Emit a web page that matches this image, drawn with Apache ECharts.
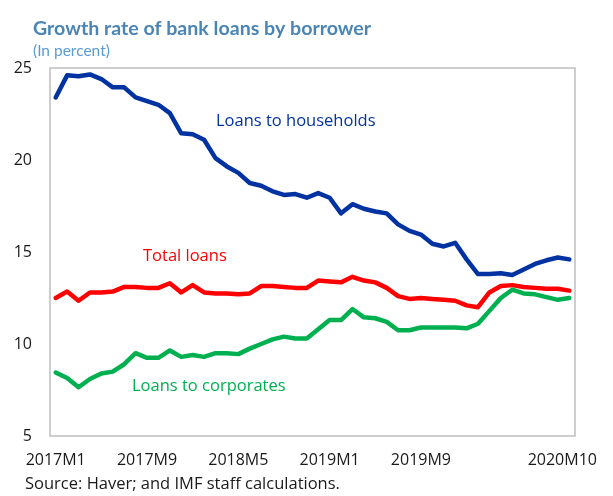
<!DOCTYPE html>
<html>
<head>
<meta charset="utf-8">
<script src="https://cdn.jsdelivr.net/npm/echarts@6/dist/echarts.min.js"></script>
<style>
  html, body { margin: 0; padding: 0; background: #ffffff; }
  #chart { width: 613px; height: 496px; }
</style>
</head>
<body>
<div id="chart"></div>
<script>
// Monthly observations, 2017M1 .. 2020M10
const months = [
  '2017M1','2017M2','2017M3','2017M4','2017M5','2017M6','2017M7','2017M8','2017M9','2017M10','2017M11','2017M12',
  '2018M1','2018M2','2018M3','2018M4','2018M5','2018M6','2018M7','2018M8','2018M9','2018M10','2018M11','2018M12',
  '2019M1','2019M2','2019M3','2019M4','2019M5','2019M6','2019M7','2019M8','2019M9','2019M10','2019M11','2019M12',
  '2020M1','2020M2','2020M3','2020M4','2020M5','2020M6','2020M7','2020M8','2020M9','2020M10'
];

// Growth rates, percent
const households = [
  23.4, 24.6, 24.55, 24.65, 24.4, 23.95, 23.95, 23.4, 23.2, 23.0, 22.55, 21.45,
  21.4, 21.1, 20.1, 19.65, 19.3, 18.75, 18.6, 18.3, 18.1, 18.15, 17.95, 18.2,
  17.95, 17.1, 17.6, 17.35, 17.2, 17.1, 16.5, 16.15, 15.95, 15.45, 15.3, 15.5,
  14.6, 13.8, 13.8, 13.85, 13.75, 14.05, 14.35, 14.55, 14.7, 14.6
];
const totalLoans = [
  12.5, 12.85, 12.35, 12.8, 12.8, 12.85, 13.1, 13.1, 13.05, 13.05, 13.3, 12.8,
  13.2, 12.8, 12.75, 12.75, 12.7, 12.75, 13.15, 13.15, 13.1, 13.05, 13.05, 13.45,
  13.4, 13.35, 13.65, 13.45, 13.35, 13.05, 12.6, 12.45, 12.5, 12.45, 12.4, 12.35,
  12.1, 12.0, 12.8, 13.15, 13.2, 13.1, 13.05, 13.0, 13.0, 12.9
];
const corporates = [
  8.45, 8.15, 7.65, 8.1, 8.4, 8.5, 8.9, 9.5, 9.25, 9.25, 9.65, 9.3,
  9.4, 9.3, 9.5, 9.5, 9.45, 9.75, 10.0, 10.25, 10.4, 10.3, 10.3, 10.8,
  11.3, 11.3, 11.9, 11.45, 11.4, 11.2, 10.75, 10.75, 10.9, 10.9, 10.9, 10.9,
  10.85, 11.1, 11.8, 12.5, 12.95, 12.75, 12.7, 12.55, 12.4, 12.5
];

// Months that carry a tick label on the horizontal axis
const labelledMonths = ['2017M1', '2017M9', '2018M5', '2019M1', '2019M9', '2020M10'];

const yTicks = { min: 5, max: 25, interval: 5 };

const FONT = '"Open Sans", "Noto Sans", sans-serif';
const TITLE_FONT = 'Lato, "Open Sans", sans-serif';

const chart = echarts.init(document.getElementById('chart'), null, { renderer: 'canvas' });

function lineSeries(name, data, color) {
  return {
    name: name,
    type: 'line',
    data: data,
    symbol: 'none',
    smooth: false,
    lineStyle: { color: color, width: 4.5, join: 'round', cap: 'round' },
    itemStyle: { color: color },
    z: 3
  };
}

chart.setOption({
  backgroundColor: '#ffffff',
  animation: false,
  title: [
    {
      text: 'Growth rate of bank loans by borrower',
      left: 33, top: 19, padding: 0,
      textStyle: { fontFamily: TITLE_FONT, fontSize: 19.6, fontWeight: 'bold', color: '#4a85b5' }
    },
    {
      text: '(In percent)',
      left: 33, top: 43, padding: 0,
      textStyle: { fontFamily: TITLE_FONT, fontSize: 15.5, fontWeight: 'normal', color: '#5b9bd5' }
    }
  ],
  grid: {
    left: 50, right: 38, top: 68, bottom: 60,
    show: true, borderColor: '#bfbfbf', borderWidth: 1.5, containLabel: false
  },
  xAxis: {
    type: 'category',
    data: months,
    boundaryGap: true,
    axisLine: { show: false },
    axisTick: { show: false },
    splitLine: { show: false },
    axisLabel: {
      interval: function (idx, value) { return labelledMonths.indexOf(value) >= 0; },
      margin: 16,
      color: '#1a1a1a',
      fontFamily: FONT,
      fontSize: 16,
      formatter: function (value) {
        return value === '2020M10' ? '{last|' + value + '}' : value;
      },
      rich: {
        last: { fontFamily: FONT, fontSize: 16, color: '#1a1a1a', padding: [0, 14, 6, 0] }
      }
    }
  },
  yAxis: {
    type: 'value',
    min: yTicks.min, max: yTicks.max, interval: yTicks.interval,
    axisLine: { show: false },
    axisTick: { show: false },
    splitLine: { show: false },
    axisLabel: { margin: 18, color: '#1a1a1a', fontFamily: FONT, fontSize: 16 }
  },
  series: [
    lineSeries('Loans to households', households, '#0033a1'),
    lineSeries('Total loans', totalLoans, '#ff0000'),
    lineSeries('Loans to corporates', corporates, '#00b050')
  ],
  graphic: [
    {
      type: 'text', left: 216, top: 113,
      style: { text: 'Loans to households', fill: '#0033a1', font: '16.5px ' + FONT }
    },
    {
      type: 'text', left: 143, top: 248,
      style: { text: 'Total loans', fill: '#ff0000', font: '16.5px ' + FONT }
    },
    {
      type: 'text', left: 132, top: 378,
      style: { text: 'Loans to corporates', fill: '#00b050', font: '16.5px ' + FONT }
    },
    {
      type: 'text', left: 25, top: 476,
      style: { text: 'Source: Haver; and IMF staff calculations.', fill: '#1a1a1a', font: '16.5px ' + FONT }
    }
  ]
});
</script>
</body>
</html>
